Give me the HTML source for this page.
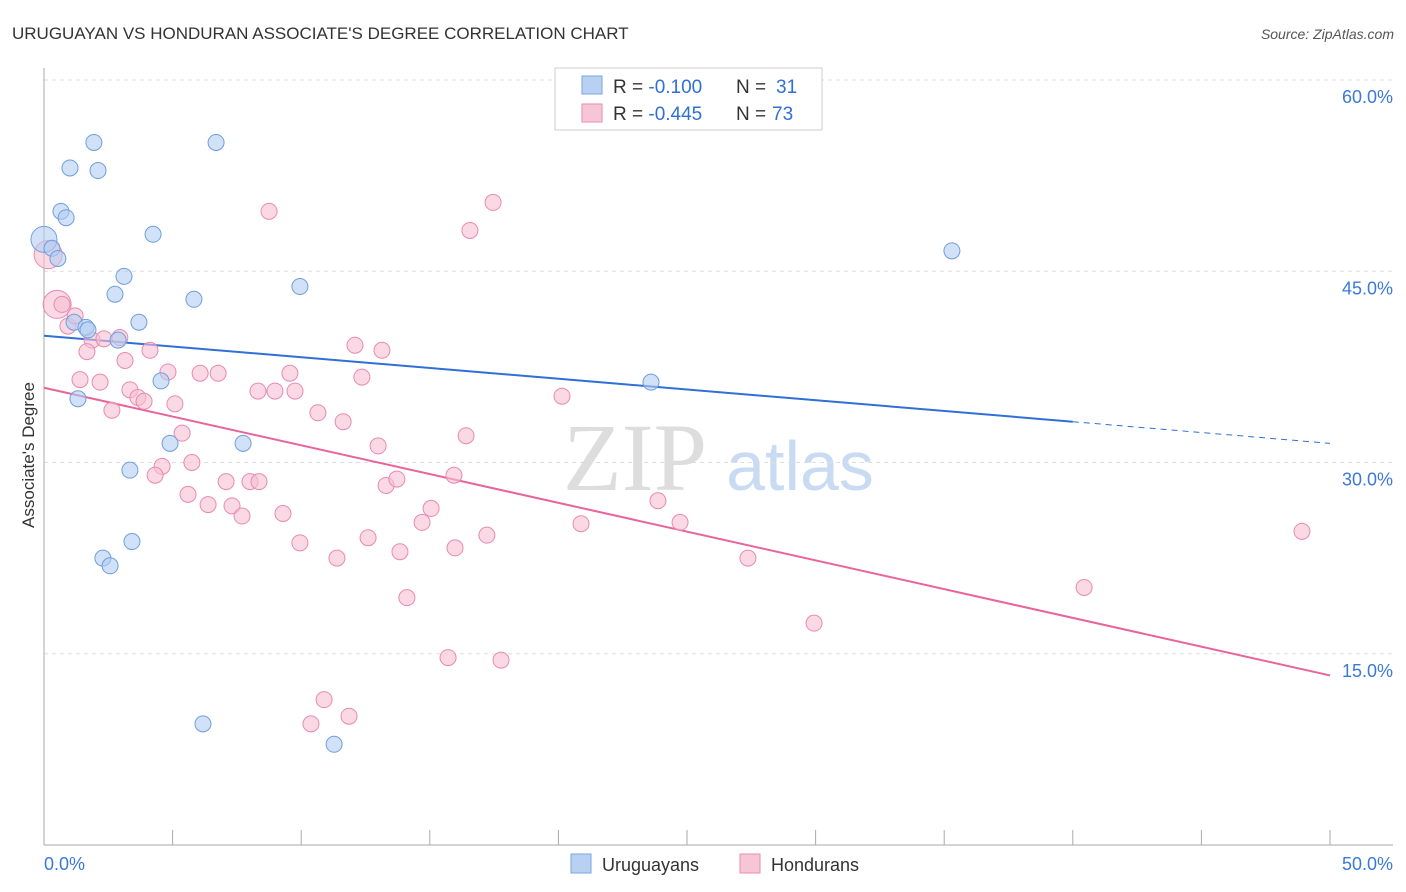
<!DOCTYPE html>
<html><head><meta charset="utf-8"><style>
body{margin:0;background:#fff;font-family:"Liberation Sans",sans-serif;}
#wrap{position:relative;width:1406px;height:892px;overflow:hidden;}
</style></head><body>
<div id="wrap">
<svg id="chart" width="1406" height="892">
<text x="12" y="39" font-size="17" fill="#333">URUGUAYAN VS HONDURAN ASSOCIATE'S DEGREE CORRELATION CHART</text>
<text x="1394" y="39" font-size="14" fill="#555" font-style="italic" text-anchor="end">Source: ZipAtlas.com</text>
<g>
<text x="635" y="490" font-size="96" fill="#ddd" font-family="Liberation Serif,serif" text-anchor="middle">ZIP</text>
<text x="800" y="490" font-size="70" fill="#c9dbf2" text-anchor="middle">atlas</text>
</g>
<g id="grid"></g><g id="axes"></g><g id="lines"></g><g id="pts"></g>
<text transform="translate(34,455) rotate(-90)" font-size="17" fill="#333" text-anchor="middle">Associate's Degree</text>
<g>
<rect x="555" y="68" width="267" height="62" fill="#fff" stroke="#ccc"/>
<rect x="582" y="76" width="20" height="18" fill="#b8d1f3" stroke="#7aa6e0"/>
<rect x="582" y="104" width="20" height="18" fill="#f7c6d6" stroke="#e88ab0"/>
<text x="613" y="93" font-size="19" fill="#333">R = <tspan fill="#2f6fd6">-0.100</tspan><tspan x="736">N = </tspan><tspan fill="#2f6fd6" x="776">31</tspan></text>
<text x="613" y="120" font-size="19" fill="#333">R = <tspan fill="#2f6fd6">-0.445</tspan><tspan x="736">N = </tspan><tspan fill="#2f6fd6" x="772">73</tspan></text>
</g>
<g>
<rect x="571" y="854" width="20" height="19" fill="#b8d1f3" stroke="#7aa6e0"/>
<text x="602" y="871" font-size="18" fill="#333">Uruguayans</text>
<rect x="740" y="854" width="20" height="19" fill="#f7c6d6" stroke="#e88ab0"/>
<text x="771" y="871" font-size="18" fill="#333">Hondurans</text>
</g>
</svg>
</div>
<script>
const yTicks=[15,30,45,60];
const xTickLabels=["0.0%","50.0%"];
const blueX=[0,0.31,0.54,0.66,0.86,1.01,1.94,2.10,6.69,4.24,3.11,2.76,5.83,9.95,3.69,1.17,1.63,1.71,2.88,4.55,1.32,4.90,7.74,3.34,2.29,2.57,3.42,6.18,11.28,23.6,35.3];
const blueY=[47.5,46.8,46.0,49.7,49.2,53.1,55.1,52.9,55.1,47.9,44.6,43.2,42.8,43.8,41.0,41.0,40.6,40.4,39.6,36.4,35.0,31.5,31.5,29.4,22.5,21.9,23.8,9.5,7.9,36.3,46.6];
const pinkX=[0.16,0.51,0.70,0.93,1.21,1.87,1.67,2.33,2.95,3.15,4.12,1.40,2.18,2.64,3.34,3.65,3.89,4.82,5.09,5.37,5.75,4.59,4.32,5.60,6.38,6.07,6.77,7.08,7.31,7.70,8.01,8.36,8.32,8.98,8.75,9.56,9.76,9.29,9.95,10.65,11.63,11.39,10.38,10.89,11.86,12.09,12.36,13.14,12.99,13.30,13.72,12.60,13.84,14.70,15.05,14.11,15.71,15.94,15.98,16.41,16.56,17.46,17.22,17.77,20.14,20.88,23.87,24.73,27.37,29.94,40.44,48.91];
const pinkY=[46.3,42.4,42.4,40.7,41.5,39.6,38.7,39.7,39.8,38.0,38.8,36.5,36.3,34.1,35.7,35.1,34.8,37.1,34.6,32.3,30.0,29.7,29.0,27.5,26.7,37.0,37.0,28.5,26.6,25.8,28.5,28.5,35.6,35.6,49.7,37.0,35.6,26.0,23.7,33.9,33.2,22.5,9.5,11.4,10.1,39.2,36.7,38.8,31.3,28.2,28.7,24.1,23.0,25.3,26.4,19.4,14.7,29.0,23.3,32.1,48.2,50.4,24.3,14.5,35.2,25.2,27.0,25.3,22.5,17.4,20.2,24.6];
const blueTrend=[39.94,33.2,31.5]; // at x=0, 40, 50
const pinkTrend=[35.86,13.3]; // at x=0, 50
const NS="http://www.w3.org/2000/svg";
const X=v=>44+v*25.72, Y=v=>845-v*12.75;
function mk(tag,attrs,parent){const e=document.createElementNS(NS,tag);for(const k in attrs)e.setAttribute(k,attrs[k]);parent.appendChild(e);return e;}
const grid=document.getElementById('grid'),axes=document.getElementById('axes'),lines=document.getElementById('lines'),pts=document.getElementById('pts');
yTicks.forEach(t=>{
 const l=mk('line',{x1:44,x2:1393,y1:Y(t),y2:Y(t),stroke:'#ddd','stroke-dasharray':'4,4'},grid);
 
 
 const tx=mk('text',{x:1393,y:Y(t)+23,'font-size':18,fill:'#3b78d8','text-anchor':'end'},grid);
 tx.textContent=t.toFixed(1)+'%';
 
 
});
mk('line',{x1:44,x2:1393,y1:845,y2:845,stroke:'#aaa'},axes);
mk('line',{x1:44,x2:44,y1:68,y2:845,stroke:'#aaa'},axes);
for(let i=0;i<=10;i++){const t=mk('line',{x1:X(i*5),x2:X(i*5),y1:830,y2:845,stroke:'#aaa'},axes);
 
 }
const xl0=mk('text',{x:44,y:870,'font-size':18,fill:'#3b78d8'},axes);xl0.textContent=xTickLabels[0];


const xl1=mk('text',{x:1393,y:870,'font-size':18,fill:'#3b78d8','text-anchor':'end'},axes);xl1.textContent=xTickLabels[1];


function pt(x,y,r,fill,stroke,name){const c=mk('circle',{cx:X(x),cy:Y(y),r:r,fill:fill,'fill-opacity':0.6,stroke:stroke,'stroke-width':1},pts);
 
 }
pinkX.forEach((x,i)=>pt(x,pinkY[i],i<2?14:8,'#f7c0d2','#e88ab0','honduran-point'));
blueX.forEach((x,i)=>pt(x,blueY[i],i<1?13:8,'#b3cdf2','#6f9edc','uruguayan-point'));
const bl=mk('line',{x1:X(0),y1:Y(blueTrend[0]),x2:X(40),y2:Y(blueTrend[1]),stroke:'#2f6fd6','stroke-width':2},lines);


const bd=mk('line',{x1:X(40),y1:Y(blueTrend[1]),x2:X(50),y2:Y(blueTrend[2]),stroke:'#2f6fd6','stroke-width':1,'stroke-dasharray':'6,5'},lines);


const pl=mk('line',{x1:X(0),y1:Y(pinkTrend[0]),x2:X(50),y2:Y(pinkTrend[1]),stroke:'#e8649a','stroke-width':2},lines);


</script>
</body></html>
